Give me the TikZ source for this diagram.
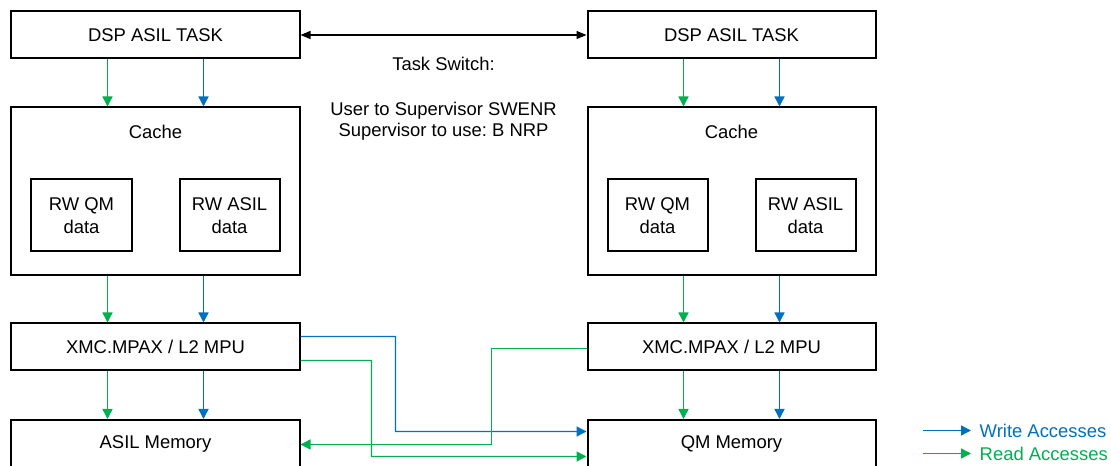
\documentclass[tikz,border=0pt]{standalone}
\usepackage{fontspec}
\setmainfont{Liberation Sans}
\usepackage{tikz}
\usetikzlibrary{arrows.meta}
\definecolor{wrblue}{HTML}{0070C0}
\definecolor{rdgreen}{HTML}{00B050}
\frenchspacing

\begin{document}
\begin{tikzpicture}[x=1bp, y=-1bp,
every node/.style = {font=\fontsize{18.5}{21.5}\selectfont, inner sep=0pt},
box/.style = {draw, line width=2bp, minimum width=288bp, minimum height=47bp,
  align=center},
cachebox/.style = {box, minimum height=168bp},
databox/.style = {box, minimum width=100bp, minimum height=72bp,
  font=\fontsize{18.5}{23.5}\selectfont},
wr/.style = {-{Triangle[length=10bp,width=10bp]}, color=wrblue, line width=1.4bp},
rd/.style = {-{Triangle[length=10bp,width=10bp]}, color=rdgreen, line width=1.4bp},
switch/.style = {{Triangle[length=10bp,width=8bp]}-{Triangle[length=10bp,width=8bp]},
  line width=1.2bp}
]
\useasboundingbox (0,0) rectangle (1111,466);

% left side
\node [box] (dspL) at (155.5,35) {DSP ASIL TASK};
\node [cachebox, label={[anchor=north, yshift=-18.5bp]north:Cache}] (cacheL) at (155.5,191.5) {};
\node [databox] (qmL) at (81.5,215.5) {RW QM\\data};
\node [databox] (asilL) at (229.5,215.5) {RW ASIL\\data};
\node [box] (xmcL) at (155.5,347) {XMC.MPAX / L2 MPU};
\node [box] (memL) at (155.5,443.5) {ASIL Memory};

% right side
\node [box] (dspR) at (731.5,35) {DSP ASIL TASK};
\node [cachebox, label={[anchor=north, yshift=-18.5bp]north:Cache}] (cacheR) at (731.5,191.5) {};
\node [databox] (qmR) at (657.5,215.5) {RW QM\\data};
\node [databox] (asilR) at (805.5,215.5) {RW ASIL\\data};
\node [box] (xmcR) at (731.5,347) {XMC.MPAX / L2 MPU};
\node [box] (memR) at (731.5,443.5) {QM Memory};

\draw [switch] (dspL) -- (dspR);
\node (tsw) at (443.5,63.5) {Task Switch:};
\node [align=center] (tmode) at (443.5,121.4) {User to Supervisor SWENR\\Supervisor to use: B NRP};

\foreach \s in {L,R} {
  \foreach \a/\b in {dsp/cache, cache/xmc, xmc/mem} {
    \draw [rd] ([xshift=-48bp]\a\s.south) -- ([xshift=-48bp]\b\s.north);
    \draw [wr] ([xshift=48bp]\a\s.south) -- ([xshift=48bp]\b\s.north);
  }
}

% accesses across
\draw [wr] ([yshift=10.5bp]xmcL.east) -| (395.5,431.5) -- ([yshift=12bp]memR.west);
\draw [rd] ([yshift=-13.5bp]xmcL.east) -| (371.5,456.5) -- ([yshift=-13bp]memR.west);
\draw [rd] ([yshift=-1.5bp]xmcR.west) -| (491.5,444.5) -- ([yshift=-1bp]memL.east);

% legend
\coordinate (legW) at (923,430.5);
\coordinate (legR) at (923,453.5);
\draw [wr] (legW) -- ++(48,0) node [anchor=west, xshift=8bp, text=wrblue] {Write Accesses};
\draw [rd] (legR) -- ++(48,0) node [anchor=west, xshift=8bp, text=rdgreen] {Read Accesses};

\end{tikzpicture}
\end{document}
